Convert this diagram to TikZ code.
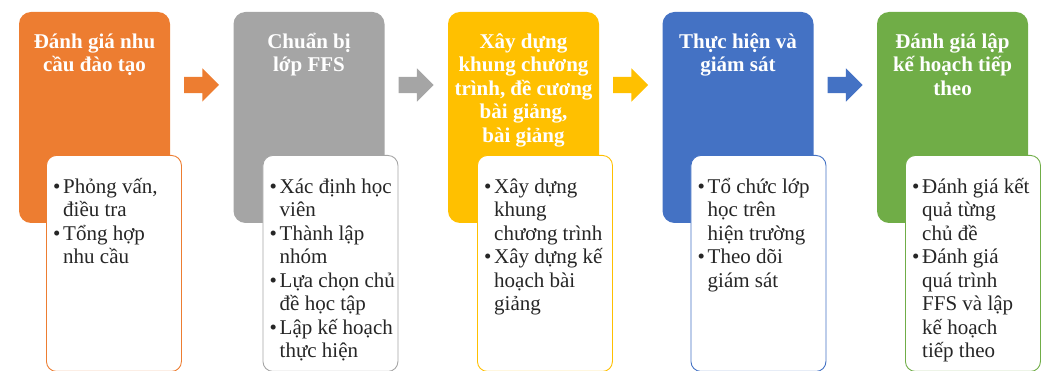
\documentclass[tikz,border=0pt]{standalone}
\usepackage{fontspec}
\setmainfont{Liberation Serif}
\usetikzlibrary{positioning,shapes.arrows,calc}
\definecolor{cOrange}{HTML}{ED7D31}
\definecolor{cGray}{HTML}{A5A5A5}
\definecolor{cGold}{HTML}{FFC000}
\definecolor{cBlue}{HTML}{4472C4}
\definecolor{cGreen}{HTML}{70AD47}
\newcommand{\topline}{\rule{0pt}{22pt}}
\newcommand{\bitem}{\makebox[10pt][l]{\textbullet}}
\newcommand{\bcont}{\hspace*{10pt}}
\tikzset{
  stage/.style={fill=#1, rounded corners=12pt, minimum width=151pt, minimum height=211pt, inner sep=0pt, outer sep=0pt},
  detail/.style={draw=#1, fill=white, line width=0.9pt, rounded corners=10pt, minimum width=135pt, minimum height=216pt, inner sep=0pt, anchor=north west},
  stagetitle/.style={text=white, font=\fontsize{21}{23.5}\selectfont\bfseries, align=center, anchor=north, inner sep=0pt},
  itemtext/.style={text=black!85, font=\fontsize{21}{23.5}\selectfont, align=left, anchor=north west, inner sep=0pt},
  blockarrow/.style={single arrow, fill=#1, single arrow head extend=8.5pt, minimum height=35pt, inner sep=0pt, inner ysep=8pt, outer sep=0pt, anchor=tail}
}
\begin{document}
\begin{tikzpicture}[x=1pt,y=1pt]
\useasboundingbox (0,0) rectangle (1050,-371);
% Stages
\node[stage=cOrange] (s1) at (94.5,-117.5) {};
\node[stage=cGray, right=63.5pt of s1] (s2) {};
\node[stage=cGold, right=63.5pt of s2] (s3) {};
\node[stage=cBlue, right=63.5pt of s3] (s4) {};
\node[stage=cGreen, right=63.5pt of s4] (s5) {};
% Detail boxes
\node[detail=cOrange] (w1) at ([xshift=27pt,yshift=-143pt]s1.north west) {};
\node[detail=cGray] (w2) at ([xshift=29pt,yshift=-143pt]s2.north west) {};
\node[detail=cGold] (w3) at ([xshift=29pt,yshift=-143pt]s3.north west) {};
\node[detail=cBlue] (w4) at ([xshift=28pt,yshift=-143pt]s4.north west) {};
\node[detail=cGreen] (w5) at ([xshift=28pt,yshift=-143pt]s5.north west) {};
% Titles
\node[stagetitle] (t1) at ([yshift=-14pt]s1.north) {\topline Đánh giá nhu\\cầu đào tạo};
\node[stagetitle] (t2) at ([yshift=-14pt]s2.north) {\topline Chuẩn bị\\lớp FFS};
\node[stagetitle] (t3) at ([yshift=-14pt]s3.north) {\topline Xây dựng\\khung chương\\trình, đề cương\\bài giảng,\\bài giảng};
\node[stagetitle] (t4) at ([yshift=-14pt]s4.north) {\topline Thực hiện và\\giám sát};
\node[stagetitle] (t5) at ([yshift=-14pt]s5.north) {\topline Đánh giá lập\\kế hoạch tiếp\\theo};
% Items
\node[itemtext] (d1) at ([xshift=7pt,yshift=-16pt]w1.north west)
  {\topline\bitem Phỏng vấn,\\\bcont điều tra\\\bitem Tổng hợp\\\bcont nhu cầu};
\node[itemtext] (d2) at ([xshift=7pt,yshift=-16pt]w2.north west)
  {\topline\bitem Xác định học\\\bcont viên\\\bitem Thành lập\\\bcont nhóm\\\bitem Lựa chọn chủ\\\bcont đề học tập\\\bitem Lập kế hoạch\\\bcont thực hiện};
\node[itemtext] (d3) at ([xshift=7pt,yshift=-16pt]w3.north west)
  {\topline\bitem Xây dựng\\\bcont khung\\\bcont chương trình\\\bitem Xây dựng kế\\\bcont hoạch bài\\\bcont giảng};
\node[itemtext] (d4) at ([xshift=7pt,yshift=-16pt]w4.north west)
  {\topline\bitem Tổ chức lớp\\\bcont học trên\\\bcont hiện trường\\\bitem Theo dõi\\\bcont giám sát};
\node[itemtext] (d5) at ([xshift=7pt,yshift=-16pt]w5.north west)
  {\topline\bitem Đánh giá kết\\\bcont quả từng\\\bcont chủ đề\\\bitem Đánh giá\\\bcont quá trình\\\bcont FFS và lập\\\bcont kế hoạch\\\bcont tiếp theo};
% Arrows
\node[blockarrow=cOrange] (a1) at ($(s1.east)+(14,32.5)$) {};
\node[blockarrow=cGray] (a2) at ($(s2.east)+(14,32.5)$) {};
\node[blockarrow=cGold] (a3) at ($(s3.east)+(14,32.5)$) {};
\node[blockarrow=cBlue] (a4) at ($(s4.east)+(14,32.5)$) {};
\end{tikzpicture}
\end{document}
